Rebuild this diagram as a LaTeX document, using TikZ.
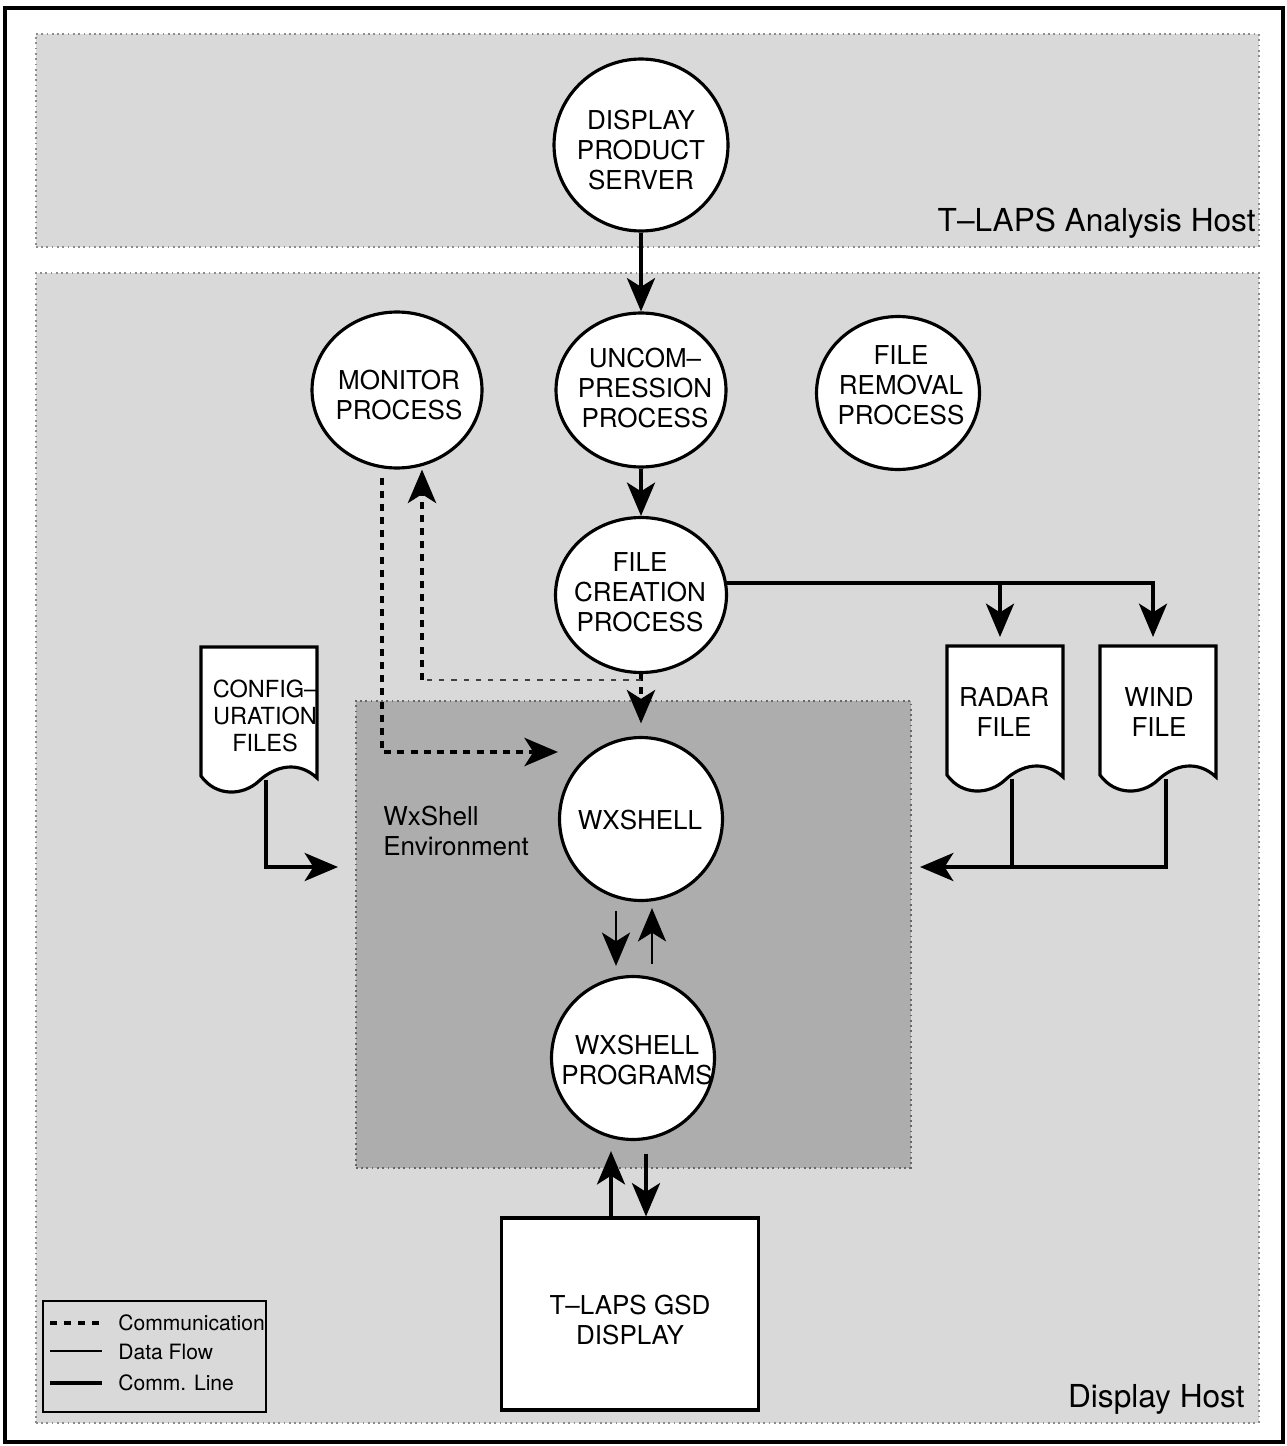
\documentclass[tikz,border=0pt]{standalone}
\usepackage{fontspec}
\setmainfont{TeX Gyre Heros}
\usetikzlibrary{arrows.meta,shapes.geometric,calc}
\tikzset{
  hostbg/.style={fill=black!15, draw=black!45, dotted, line width=1pt, inner sep=0pt, anchor=north west},
  envbg/.style={fill=black!32, draw=black!60, dotted, line width=1pt, inner sep=0pt, anchor=north west},
  proc/.style={ellipse, draw, fill=white, line width=1.8pt, inner sep=0pt},
  ptext/.style={font=\fontsize{14.8}{17}\selectfont, align=center, inner sep=0pt},
  ctext/.style={font=\fontsize{13.4}{15.6}\selectfont, align=center, inner sep=0pt},
  hlabel/.style={font=\fontsize{18}{20}\selectfont, inner sep=0pt},
  legtext/.style={font=\fontsize{12}{14}\selectfont, anchor=west, inner sep=0pt},
  head/.style={-{Stealth[length=19pt,width=16pt,inset=5pt]}},
  thickflow/.style={line width=2pt, head},
  thinflow/.style={line width=1.3pt, head},
  commd/.style={line width=2.5pt, dash pattern=on 4pt off 3.5pt},
  commthin/.style={line width=1pt, dash pattern=on 3pt off 4pt, black!75},
  docshape/.style={draw, fill=white, line width=1.8pt, line join=miter},
}
\newcommand\mydoc[2]{%
  \begin{scope}[shift={(#1,#2)}]
    \draw[docshape] (0,0) -- (116,0) -- (116,131)
      .. controls (98,114) and (75,118) .. (58,134)
      .. controls (42,149) and (15,150) .. (0,129) -- cycle;
  \end{scope}}
\begin{document}
\begin{tikzpicture}[x=0.02cm,y=-0.02cm]
\useasboundingbox (0,0) rectangle (1287,1446);
\fill[white] (0,0) rectangle (1287,1446);
\draw[line width=2pt] (5,8) rectangle (1283,1442);

% regions
\node[hostbg, minimum width=24.46cm, minimum height=4.26cm] (ahost) at (35,33) {};
\node[hostbg, minimum width=24.46cm, minimum height=23cm] (dhost) at (35,272) {};
\node[envbg, minimum width=11.1cm, minimum height=9.34cm] (env) at (355,700) {};

\node[hlabel, anchor=base east] (ahost-l) at (1256,232) {T–LAPS Analysis Host};
\node[hlabel, anchor=base east] (dhost-l) at (1245,1407) {Display Host};
\node[ptext, anchor=base west] (env-l1) at (383,825) {WxShell};
\node[ptext, anchor=base west] (env-l2) at (383,855) {Environment};

% processes
\node[proc, minimum width=3.48cm, minimum height=3.44cm] (dps) at (641,145) {};
\node[ptext] (dps-t) at (641,150) {DISPLAY\\PRODUCT\\SERVER};
\node[proc, minimum width=3.4cm, minimum height=3.12cm] (mon) at (397,390) {};
\node[ptext] (mon-t) at (399,395) {MONITOR\\PROCESS};
\node[proc, minimum width=3.4cm, minimum height=3.08cm] (unc) at (641,390) {};
\node[ptext] (unc-t) at (645,388) {UNCOM–\\PRESSION\\PROCESS};
\node[proc, minimum width=3.42cm, minimum height=3.1cm] (fc) at (641,595) {};
\node[ptext] (fc-t) at (640,592) {FILE\\CREATION\\PROCESS};
\node[proc, minimum width=3.26cm, minimum height=3.06cm] (fr) at (898,393) {};
\node[ptext] (fr-t) at (901,385) {FILE\\REMOVAL\\PROCESS};
\node[proc, minimum width=3.26cm, minimum height=3.26cm] (wx) at (641,819) {};
\node[ptext] (wx-t) at (640,820) {WXSHELL};
\node[proc, minimum width=3.26cm, minimum height=3.26cm] (wxp) at (633,1058) {};
\node[ptext] (wxp-t) at (637,1060) {WXSHELL\\PROGRAMS};
\node[draw, fill=white, line width=1.8pt, minimum width=5.14cm, minimum height=3.84cm, inner sep=0pt] (gsd) at (630,1314) {};
\node[ptext] (gsd-t) at (630,1320) {T–LAPS GSD\\DISPLAY};

% files
\mydoc{201}{647}
\node[ctext] (cf-t) at (265,716) {CONFIG–\\URATION\\FILES};
\mydoc{947}{646}
\node[ptext] (rad-t) at (1004,712) {RADAR\\FILE};
\mydoc{1100}{646}
\node[ptext] (win-t) at (1159,712) {WIND\\FILE};

% coordinates
\coordinate (dj) at (422,680);
\coordinate (mk) at (382,752);
\coordinate (radN) at (1000,637);
\coordinate (winN) at (1153,637);
\coordinate (radS) at (1012,779);
\coordinate (winS) at (1166,779);
\coordinate (cfS) at (266,780);
\coordinate (envin) at (920,867);
\coordinate (cfin) at (338,867);

% data flow / comm lines
\draw[thickflow] (dps) -- (unc);
\draw[thickflow] (unc) -- (fc);
\draw[thickflow] (fc.8) -| (winN);
\draw[thickflow] (radN |- fc.8) -- (radN);
\draw[line width=2pt] (radS) -- (radS |- envin);
\draw[thickflow] (winS) |- (envin);
\draw[thickflow] (cfS) |- (cfin);

\draw[thinflow] ($(wx.south)+(-25,9)$) -- ($(wxp.north)+(-17,-9)$);
\draw[thinflow] ($(wxp.north)+(19,-11)$) -- ($(wx.south)+(11,6)$);
\draw[thickflow] ($(gsd.north)+(-19,0)$) -- ($(wxp.south)+(-22,10)$);
\draw[thickflow] ($(wxp.south)+(13,13)$) -- ($(gsd.north)+(16,0)$);

% communication (dashed)
\draw[commd, head, shorten >=0.25cm] (fc) -- (wx);
\draw[commthin] (fc.south |- dj) -- (dj);
\draw[commd, head] (dj) -- (dj |- mon.south);
\draw[commd, head] ($(mk |- mon.south)+(0,8)$) -- (mk) -- (mk -| wx.west);

% legend
\node[draw, line width=1.2pt, anchor=north west, minimum width=4.46cm, minimum height=2.22cm, inner sep=0pt] (leg) at (42,1300) {};
\draw[line width=2pt, dash pattern=on 4pt off 4pt] (50,1323) -- (102,1323);
\draw[line width=1.1pt] (50,1351) -- (102,1351);
\draw[line width=2.4pt] (50,1383) -- (102,1383);
\node[legtext] (leg1) at (118,1323) {Communication};
\node[legtext] (leg2) at (118,1352) {Data Flow};
\node[legtext] (leg3) at (118,1383) {Comm. Line};
\end{tikzpicture}
\end{document}
